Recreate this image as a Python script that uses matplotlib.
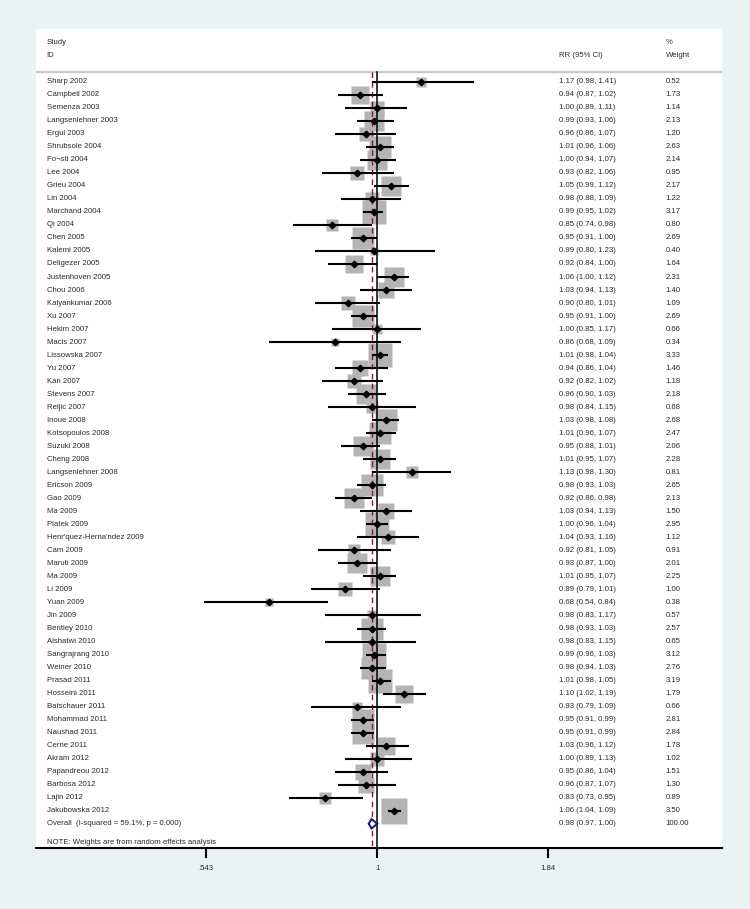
import matplotlib
matplotlib.use("Agg")
import matplotlib.pyplot as plt
import numpy as np
from matplotlib.patches import Polygon

plt.rcParams['font.family'] = ['Liberation Sans', 'DejaVu Sans']

studies = [
    "Sharp 2002", "Campbell 2002", "Semenza 2003", "Langsenlehner 2003", "Ergul 2003",
    "Shrubsole 2004", "Fo¬sti 2004", "Lee 2004", "Grieu 2004", "Lin 2004",
    "Marchand 2004", "Qi 2004", "Chen 2005", "Kalemi 2005", "Deligezer 2005",
    "Justenhoven 2005", "Chou 2006", "Kalyankumar 2006", "Xu 2007", "Hekim 2007",
    "Macis 2007", "Lissowska 2007", "Yu 2007", "Kan 2007", "Stevens 2007",
    "Reljic 2007", "Inoue 2008", "Kotsopoulos 2008", "Suzuki 2008", "Cheng 2008",
    "Langsenlehner 2008", "Ericson 2009", "Gao 2009", "Ma 2009", "Platek 2009",
    "Henr'quez-Herna'ndez 2009", "Cam 2009", "Maruti 2009", "Ma 2009", "Li 2009",
    "Yuan 2009", "Jin 2009", "Bentley 2010", "Alshatwi 2010", "Sangrajrang 2010",
    "Weiner 2010", "Prasad 2011", "Hosseini 2011", "Batschauer 2011", "Mohammad 2011",
    "Naushad 2011", "Cerne 2011", "Akram 2012", "Papandreou 2012", "Barbosa 2012",
    "Lajin 2012", "Jakubowska 2012",
]
rr = [1.17, 0.94, 1.00, 0.99, 0.96, 1.01, 1.00, 0.93, 1.05, 0.98,
      0.99, 0.85, 0.95, 0.99, 0.92, 1.06, 1.03, 0.90, 0.95, 1.00,
      0.86, 1.01, 0.94, 0.92, 0.96, 0.98, 1.03, 1.01, 0.95, 1.01,
      1.13, 0.98, 0.92, 1.03, 1.00, 1.04, 0.92, 0.93, 1.01, 0.89,
      0.68, 0.98, 0.98, 0.98, 0.99, 0.98, 1.01, 1.10, 0.93, 0.95,
      0.95, 1.03, 1.00, 0.95, 0.96, 0.83, 1.06]
lo = [0.98, 0.87, 0.89, 0.93, 0.86, 0.96, 0.94, 0.82, 0.99, 0.88,
      0.95, 0.74, 0.91, 0.80, 0.84, 1.00, 0.94, 0.80, 0.91, 0.85,
      0.68, 0.98, 0.86, 0.82, 0.90, 0.84, 0.98, 0.96, 0.88, 0.95,
      0.98, 0.93, 0.86, 0.94, 0.96, 0.93, 0.81, 0.87, 0.95, 0.79,
      0.54, 0.83, 0.93, 0.83, 0.96, 0.94, 0.98, 1.02, 0.79, 0.91,
      0.91, 0.96, 0.89, 0.86, 0.87, 0.73, 1.04]
hi = [1.41, 1.02, 1.11, 1.06, 1.07, 1.06, 1.07, 1.06, 1.12, 1.09,
      1.02, 0.98, 1.00, 1.23, 1.00, 1.12, 1.13, 1.01, 1.00, 1.17,
      1.09, 1.04, 1.04, 1.02, 1.03, 1.15, 1.08, 1.07, 1.01, 1.07,
      1.30, 1.03, 0.98, 1.13, 1.04, 1.16, 1.05, 1.00, 1.07, 1.01,
      0.84, 1.17, 1.03, 1.15, 1.03, 1.03, 1.05, 1.19, 1.09, 0.99,
      0.99, 1.12, 1.13, 1.04, 1.07, 0.95, 1.09]
weight = [0.52, 1.73, 1.14, 2.13, 1.20, 2.63, 2.14, 0.95, 2.17, 1.22,
          3.17, 0.80, 2.69, 0.40, 1.64, 2.31, 1.40, 1.09, 2.69, 0.66,
          0.34, 3.33, 1.46, 1.18, 2.18, 0.68, 2.68, 2.47, 2.06, 2.28,
          0.81, 2.65, 2.13, 1.50, 2.95, 1.12, 0.91, 2.01, 2.25, 1.00,
          0.38, 0.57, 2.57, 0.65, 3.12, 2.76, 3.19, 1.79, 0.66, 2.81,
          2.84, 1.78, 1.02, 1.51, 1.30, 0.89, 3.50]

overall_label = "Overall  (I-squared = 59.1%, p = 0.000)"
overall_rr, overall_lo, overall_hi, overall_w = 0.98, 0.97, 1.00, 100.00
xticks = [0.543, 1, 1.84]
xticklabels = [".543", "1", "1.84"]

n = len(studies)
rows = np.arange(n)
overall_row = n

bg = '#eaf2f3'
txt = '#2a2a2a'
fs = 5.6

fig = plt.figure(figsize=(7.5, 9.09), dpi=100, facecolor=bg)
W, H = 750, 909
ax = fig.add_axes([36 / W, (H - 848) / H, (722 - 36) / W, (848 - 29) / H])
ax.set_facecolor('white')
ax.set_xscale('log')
ax.set_xlim(0.2962, 3.418)
ax.set_ylim(58.86, -4.05)

# weight boxes (area ~ weight)
sizes = 9.7 * np.sqrt(weight)
for r, x, s in zip(rows, rr, sizes):
    ax.plot(x, r, marker='s', ms=s, color='#b4b4b4', mec='none', zorder=2)

# null line and overall line
ax.plot([1, 1], [-0.77, 58.86], color='black', lw=1.1, zorder=3, clip_on=False)
ax.plot([overall_rr, overall_rr], [-0.77, 58.86], color='#8b1a2a', lw=1.0,
        ls=(0, (4, 3)), zorder=3)

# confidence intervals and point estimates
ax.hlines(rows, lo, hi, color='black', lw=1.5, zorder=4)
ax.plot(rr, rows, ls='none', marker='D', ms=3.3, color='black', zorder=5)

# overall diamond
h = 0.36
diamond = Polygon([(overall_lo, overall_row), (overall_rr, overall_row - h),
                   (overall_hi, overall_row), (overall_rr, overall_row + h)],
                  closed=True, facecolor='white', edgecolor='#1c1c78', lw=1.5, zorder=6)
ax.add_patch(diamond)

# header separator
ax.axhline(-0.77, color='#c8c8c8', lw=1.6, zorder=1)

# text columns
tr = ax.get_yaxis_transform()
x_id, x_rr, x_w = 0.0156, 0.763, 0.918
ax.text(x_id, -3, "Study", transform=tr, fontsize=fs, color=txt, va='center')
ax.text(x_id, -2, "ID", transform=tr, fontsize=fs, color=txt, va='center')
ax.text(x_rr, -2, "RR (95% CI)", transform=tr, fontsize=fs, color=txt, va='center')
ax.text(x_w, -3, "%", transform=tr, fontsize=fs, color=txt, va='center')
ax.text(x_w, -2, "Weight", transform=tr, fontsize=fs, color=txt, va='center')

for r, name, a, b, c, w in zip(rows, studies, rr, lo, hi, weight):
    ax.text(x_id, r, name, transform=tr, fontsize=fs, color=txt, va='center')
    ax.text(x_rr, r, f"{a:.2f} ({b:.2f}, {c:.2f})", transform=tr, fontsize=fs,
            color=txt, va='center')
    ax.text(x_w, r, f"{w:.2f}", transform=tr, fontsize=fs, color=txt, va='center')

ax.text(x_id, overall_row, overall_label, transform=tr, fontsize=fs, color=txt, va='center')
ax.text(x_rr, overall_row, f"{overall_rr:.2f} ({overall_lo:.2f}, {overall_hi:.2f})",
        transform=tr, fontsize=fs, color=txt, va='center')
ax.text(x_w, overall_row, f"{overall_w:.2f}", transform=tr, fontsize=fs, color=txt, va='center')
ax.text(x_id, 58.45, "NOTE: Weights are from random effects analysis", transform=tr,
        fontsize=fs, color=txt, va='center')

# axis styling
for side in ['top', 'left', 'right']:
    ax.spines[side].set_visible(False)
ax.spines['bottom'].set_linewidth(1.5)
ax.set_yticks([])
ax.set_xticks(xticks)
ax.set_xticklabels(xticklabels)
ax.minorticks_off()
ax.tick_params(axis='x', which='major', length=7, width=1.5, pad=5,
               labelsize=fs, labelcolor=txt)

fig.savefig('out.png', dpi=100, facecolor=bg)
